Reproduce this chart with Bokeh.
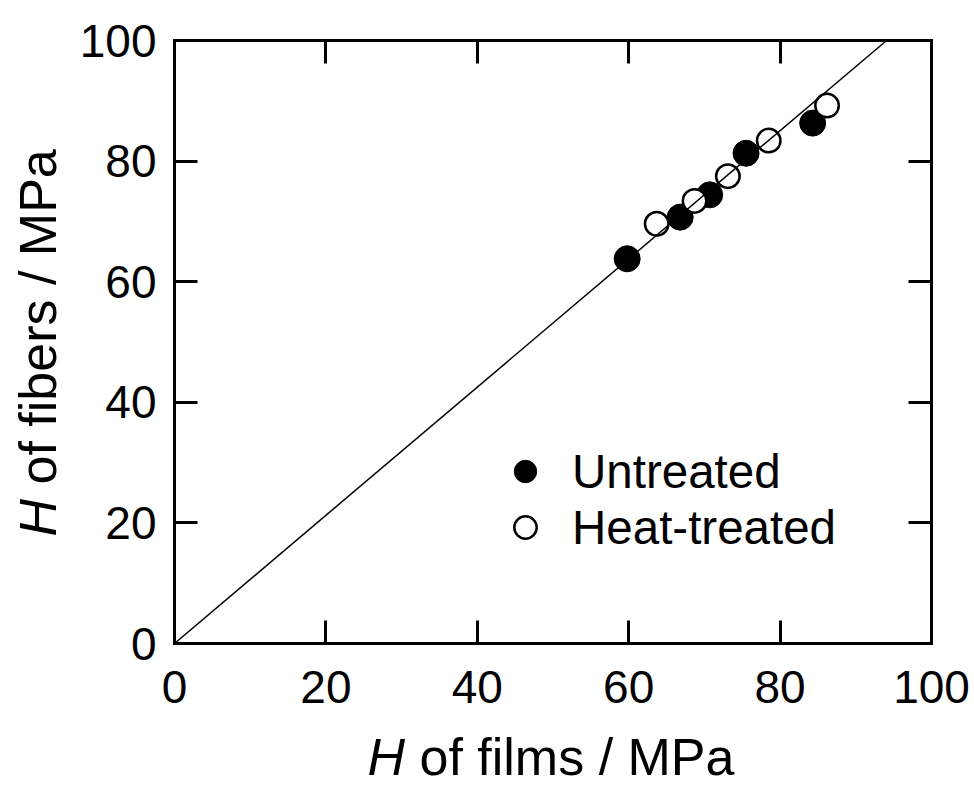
import math
from bokeh.plotting import figure
from bokeh.models import Label, Legend, LegendItem, LinearAxis, FixedTicker, Range1d
from bokeh.embed import file_html
from bokeh.resources import INLINE

# Data
untreated_x = [59.8, 66.8, 70.7, 75.5, 84.3]
untreated_y = [63.8, 70.7, 74.4, 81.3, 86.3]
heat_x = [63.7, 68.7, 73.1, 78.5, 86.2]
heat_y = [69.6, 73.4, 77.5, 83.4, 89.2]
fit_slope = 1.063
tick_values = [0, 20, 40, 60, 80, 100]
series_labels = ["Untreated", "Heat-treated"]
x_title = ["H", "of films / MPa"]
y_title = ["H", "of fibers / MPa"]

FONT = "Liberation Sans"
W, H = 974, 785
# plot box in pixels (left, right, top, bottom)
BL, BR, BT, BB = 174, 931, 40, 643
xs = (BR - BL) / 100.0
ys = (BB - BT) / 100.0
x_range = Range1d(-BL / xs, 100 + (W - BR) / xs)
y_range = Range1d(-(H - BB) / ys, 100 + BT / ys)

p = figure(width=W, height=H, x_range=x_range, y_range=y_range,
           output_backend="svg", toolbar_location=None,
           min_border=0, min_border_left=0, min_border_right=0,
           min_border_top=0, min_border_bottom=0)
p.xgrid.visible = False
p.ygrid.visible = False
p.outline_line_color = None
p.background_fill_color = "white"
p.border_fill_color = "white"

bottom_axis = p.below[0]
left_axis = p.left[0]
top_axis = LinearAxis()
right_axis = LinearAxis()
p.add_layout(top_axis, "above")
p.add_layout(right_axis, "right")

bottom_axis.fixed_location = 0
left_axis.fixed_location = 0
top_axis.fixed_location = 100
right_axis.fixed_location = 100

for ax in [bottom_axis, left_axis, top_axis, right_axis]:
    ax.bounds = (0, 100)
    ax.ticker = FixedTicker(ticks=tick_values, minor_ticks=[])
    ax.axis_line_width = 3
    ax.axis_line_color = "black"
    ax.axis_line_cap = "square"
    ax.major_tick_line_width = 3
    ax.major_tick_line_color = "black"
    ax.major_tick_in = 23
    ax.major_tick_out = 0
    ax.minor_tick_line_color = None
    ax.major_label_text_font = FONT
    ax.major_label_text_font_size = "46px"
    ax.major_label_text_color = "black"

for ax in [top_axis, right_axis]:
    ax.major_label_text_font_size = "0px"
    ax.major_label_text_color = None
    ax.major_label_standoff = 0

bottom_axis.major_label_standoff = 27
left_axis.major_label_standoff = 18

r1 = p.scatter(untreated_x, untreated_y, size=26, marker="circle",
               fill_color="black", line_color="black", line_width=1)
r2 = p.scatter(heat_x, heat_y, size=23.5, marker="circle",
               fill_color="white", line_color="black", line_width=2.5)

# reference line, from the origin to the top of the box
p.line([0, 100 / fit_slope], [0, 100], line_color="black", line_width=1.5)

legend = Legend(items=[LegendItem(label=series_labels[0], renderers=[r1]),
                       LegendItem(label=series_labels[1], renderers=[r2])],
                location=(494, 230), glyph_width=62, glyph_height=56,
                spacing=-1, padding=0, margin=0, label_standoff=16,
                label_text_font=FONT, label_text_font_size="47.5px",
                label_text_color="black", label_text_baseline="middle",
                border_line_color=None, background_fill_alpha=0)
p.add_layout(legend)

TS = 52
h_adv = (0.722 + 0.278) * TS
x_start = 367
x_base = H - 756
p.add_layout(Label(x=x_start, y=x_base, x_units="screen", y_units="screen", text=x_title[0],
                   text_font=FONT, text_font_style="italic", text_font_size=f"{TS}px",
                   text_color="black", text_baseline="alphabetic", text_align="left"))
p.add_layout(Label(x=x_start + h_adv, y=x_base, x_units="screen", y_units="screen",
                   text=x_title[1], text_font=FONT, text_font_size=f"{TS}px",
                   text_color="black", text_baseline="alphabetic", text_align="left"))
y_start = H - 536
y_base = 37
p.add_layout(Label(x=y_base, y=y_start, x_units="screen", y_units="screen", text=y_title[0],
                   angle=math.pi / 2, text_font=FONT, text_font_style="italic",
                   text_font_size=f"{TS}px", text_color="black",
                   text_baseline="alphabetic", text_align="left"))
p.add_layout(Label(x=y_base, y=y_start + h_adv, x_units="screen", y_units="screen",
                   text=y_title[1], angle=math.pi / 2,
                   text_font=FONT, text_font_size=f"{TS}px", text_color="black",
                   text_baseline="alphabetic", text_align="left"))

open("out.html", "w").write(file_html(p, INLINE))
